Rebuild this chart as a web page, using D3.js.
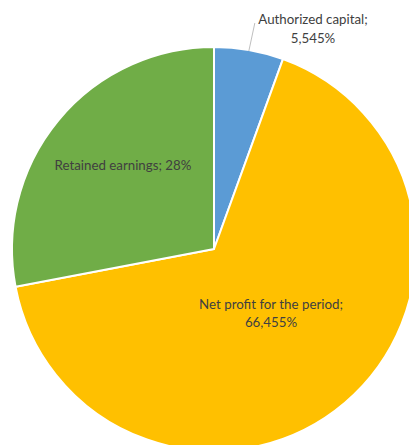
<!DOCTYPE html>
<html>
<head>
<meta charset="utf-8">
<script src="https://cdn.jsdelivr.net/npm/d3@7"></script>
<style>
  html, body { margin: 0; padding: 0; background: #fff; }
  svg { display: block; }
  text { font-family: Lato, "Open Sans", sans-serif; font-size: 13.3px; fill: #404040; }
</style>
</head>
<body>
<svg id="chart" width="409" height="445"></svg>
<script>
// Equity structure shares, in percent
const categories = ["Authorized capital", "Net profit for the period", "Retained earnings"];
const values = [5.545, 66.455, 28];
const valueLabels = ["5,545%", "66,455%", "28%"];
const colors = ["#5B9BD5", "#FFC000", "#70AD47"];

const width = 409, height = 445;
const cx = 214, cy = 249, radius = 202;

const svg = d3.select("#chart");
const g = svg.append("g").attr("transform", `translate(${cx},${cy})`);

const pie = d3.pie().sort(null).value(d => d.value);
const arcs = pie(categories.map((c, i) => ({ name: c, value: values[i], label: valueLabels[i], color: colors[i] })));
const arc = d3.arc().innerRadius(0).outerRadius(radius);

g.selectAll("path.slice")
  .data(arcs)
  .join("path")
  .attr("class", "slice")
  .attr("d", arc)
  .attr("fill", d => d.data.color)
  .attr("stroke", "#fff")
  .attr("stroke-width", 2)
  .attr("stroke-linejoin", "round");

// Small slice: label outside with a leader line from the slice's mid-arc
const small = arcs[0];
const midA = (small.startAngle + small.endAngle) / 2;
const edge = [Math.sin(midA) * (radius - 1), -Math.cos(midA) * (radius - 1)];
g.append("line")
  .attr("x1", edge[0]).attr("y1", edge[1])
  .attr("x2", edge[0] + 6).attr("y2", -cy + 23)
  .attr("stroke", "#bfbfbf").attr("stroke-width", 1);
const outLabel = g.append("text").attr("text-anchor", "middle")
  .attr("transform", `translate(${313 - cx},${19 - cy})`);
outLabel.append("tspan").attr("x", 0).attr("dy", "0.35em").text(small.data.name + ";");
outLabel.append("tspan").attr("x", 0).attr("dy", 19).text(small.data.label);

// Inside labels
const inner = [
  { d: arcs[1], x: 271, y: 304, lines: [arcs[1].data.name + ";", arcs[1].data.label] },
  { d: arcs[2], x: 123, y: 165, lines: [arcs[2].data.name + "; " + arcs[2].data.label] }
];
inner.forEach(l => {
  const t = g.append("text").attr("text-anchor", "middle")
    .attr("transform", `translate(${l.x - cx},${l.y - cy})`);
  l.lines.forEach((s, i) => {
    t.append("tspan").attr("x", 0).attr("dy", i === 0 ? "0.35em" : 18).text(s);
  });
});
</script>
</body>
</html>
